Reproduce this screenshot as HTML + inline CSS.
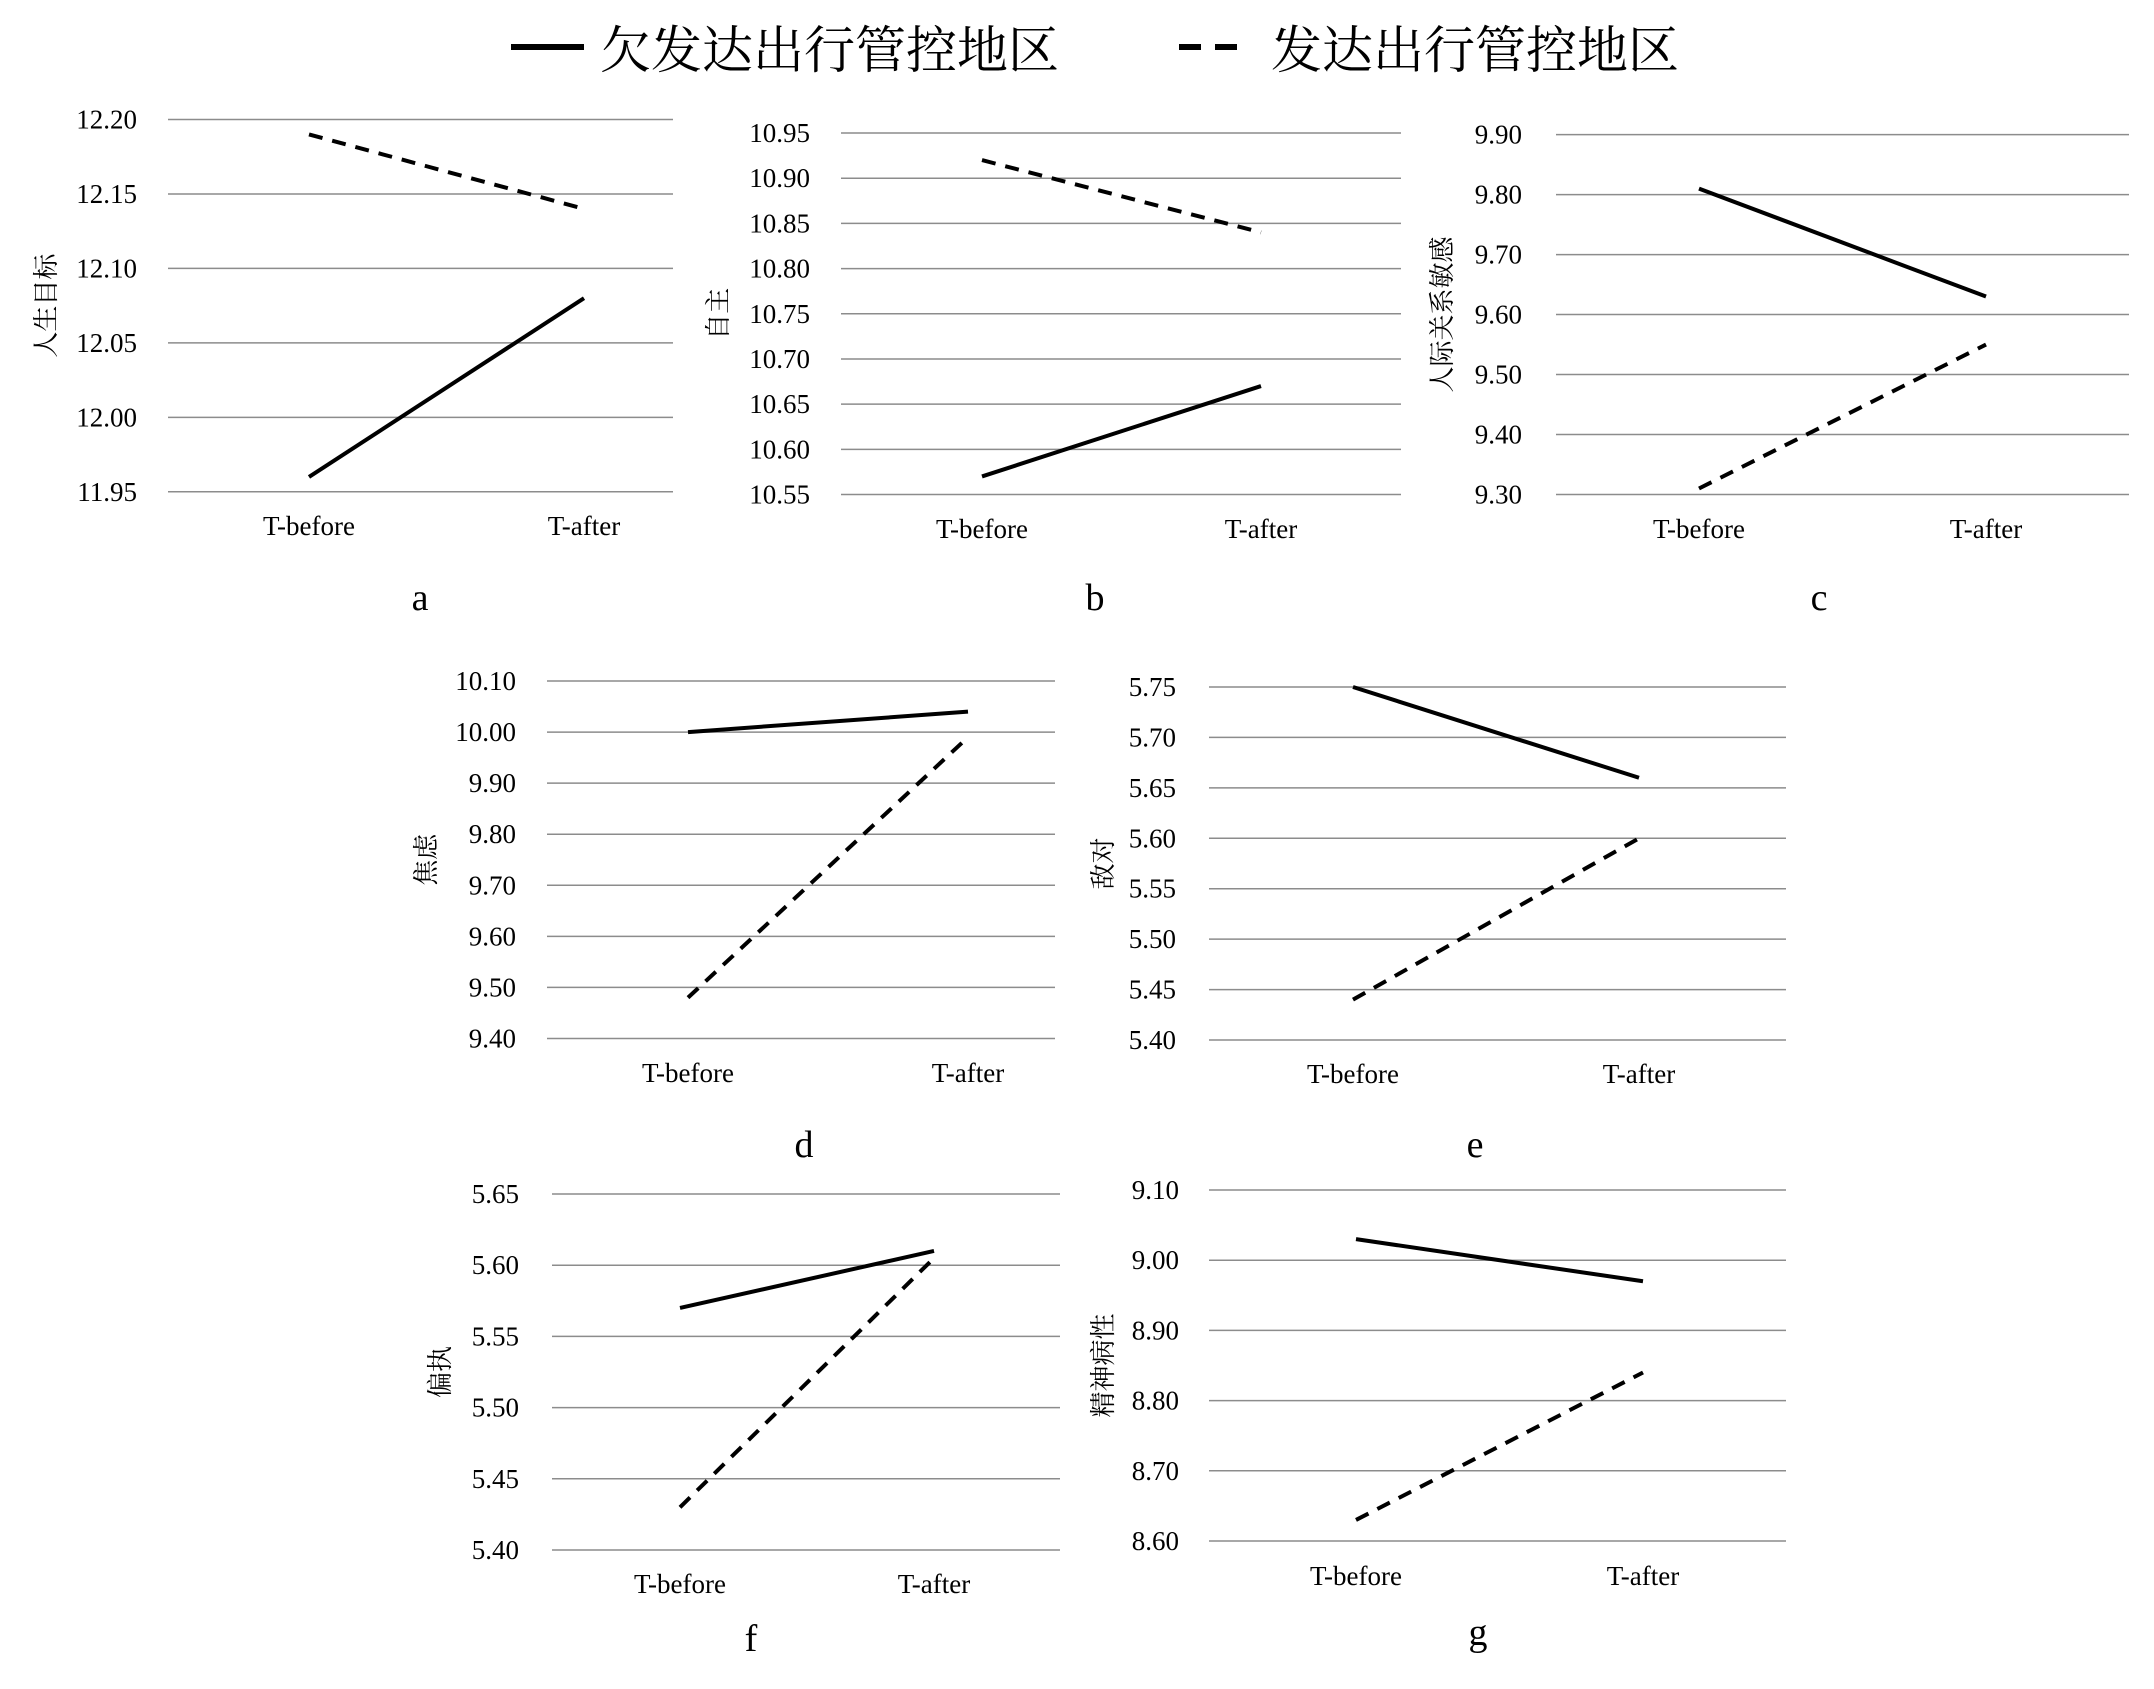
<!DOCTYPE html>
<html><head><meta charset="utf-8"><style>
html,body{margin:0;padding:0;background:#fff;}
svg{display:block;}
</style></head><body>
<svg id="s" width="2154" height="1689" xmlns="http://www.w3.org/2000/svg" font-family="'Liberation Serif','Noto Serif CJK SC',serif">
<rect width="2154" height="1689" fill="#fff"/>
<line x1="511" y1="47" x2="584" y2="47" stroke="#000" stroke-width="6"/>
<text x="600" y="68" font-size="51" font-family="'Liberation Serif','Noto Serif CJK SC',serif">欠发达出行管控地区</text>
<line x1="1179" y1="47" x2="1243" y2="47" stroke="#000" stroke-width="6" stroke-dasharray="22,14"/>
<text x="1271" y="68" font-size="51" font-family="'Liberation Serif','Noto Serif CJK SC',serif">发达出行管控地区</text>
<g id="charts"></g>
</svg>
<script>
var charts=[
{x1:168,x2:673,yt:119.5,yb:491.8,min:11.95,max:12.20,step:0.05,px:[309,584],s:[11.96,12.08],d:[12.19,12.14],tr:137,yl:46,ly:535,lab:"人生目标",L:"a",Lx:420,Ly:610},
{x1:841,x2:1401,yt:133,yb:494.5,min:10.55,max:10.95,step:0.05,px:[982,1261],s:[10.57,10.67],d:[10.92,10.84],tr:810,yl:718,ly:538,lab:"自主",L:"b",Lx:1095,Ly:610},
{x1:1556,x2:2129,yt:134.6,yb:494.5,min:9.30,max:9.90,step:0.10,px:[1699,1986],s:[9.81,9.63],d:[9.31,9.55],tr:1522,yl:1442,ly:538,lab:"人际关系敏感",L:"c",Lx:1819,Ly:610},
{x1:547,x2:1055,yt:681,yb:1038.5,min:9.40,max:10.10,step:0.10,px:[688,968],s:[10.00,10.04],d:[9.48,9.99],tr:516,yl:426,ly:1082,lab:"焦虑",L:"d",Lx:804,Ly:1157},
{x1:1209,x2:1786,yt:687,yb:1040,min:5.40,max:5.75,step:0.05,px:[1353,1639],s:[5.75,5.66],d:[5.44,5.60],tr:1176,yl:1103,ly:1083,lab:"敌对",L:"e",Lx:1475,Ly:1157},
{x1:552,x2:1060,yt:1194,yb:1550,min:5.40,max:5.65,step:0.05,px:[680,934],s:[5.57,5.61],d:[5.43,5.605],tr:519,yl:440,ly:1593,lab:"偏执",L:"f",Lx:751,Ly:1651},
{x1:1209,x2:1786,yt:1190,yb:1541,min:8.60,max:9.10,step:0.10,px:[1356,1643],s:[9.03,8.97],d:[8.63,8.84],tr:1179,yl:1103,ly:1585,lab:"精神病性",L:"g",Lx:1478,Ly:1645}
];
var h="";
charts.forEach(function(c){
 var n=Math.round((c.max-c.min)/c.step);
 function Y(v){return c.yb-(v-c.min)/(c.max-c.min)*(c.yb-c.yt);}
 for(var i=0;i<=n;i++){
  var v=c.min+i*c.step,y=c.yb-i*(c.yb-c.yt)/n;
  h+='<line x1="'+c.x1+'" x2="'+c.x2+'" y1="'+y+'" y2="'+y+'" stroke="#8c8c8c" stroke-width="1.5"/>';
  h+='<text x="'+c.tr+'" y="'+(y+9)+'" font-size="27" text-anchor="end">'+v.toFixed(2)+'</text>';
 }
 h+='<text x="'+c.px[0]+'" y="'+c.ly+'" font-size="27" text-anchor="middle">T-before</text>';
 h+='<text x="'+c.px[1]+'" y="'+c.ly+'" font-size="27" text-anchor="middle">T-after</text>';
 var ym=(c.yt+c.yb)/2;
 h+='<text transform="translate('+(c.yl+9)+','+ym+') rotate(-90)" font-size="26" text-anchor="middle">'+c.lab+'</text>';
 h+='<line x1="'+c.px[0]+'" y1="'+Y(c.s[0])+'" x2="'+c.px[1]+'" y2="'+Y(c.s[1])+'" stroke="#000" stroke-width="4"/>';
 h+='<line x1="'+c.px[0]+'" y1="'+Y(c.d[0])+'" x2="'+c.px[1]+'" y2="'+Y(c.d[1])+'" stroke="#000" stroke-width="4" stroke-dasharray="14,10"/>';
 h+='<text x="'+c.Lx+'" y="'+c.Ly+'" font-size="38" text-anchor="middle">'+c.L+'</text>';
});
document.getElementById("charts").innerHTML=h;
</script>
</body></html>
